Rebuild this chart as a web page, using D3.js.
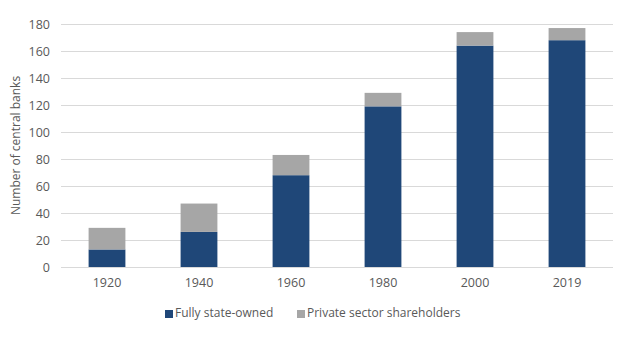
<!DOCTYPE html>
<html>
<head>
<meta charset="utf-8">
<script src="https://cdn.jsdelivr.net/npm/d3@7"></script>
<style>
  body { margin: 0; background: #fff; }
  text { font-family: "Open Sans", "Liberation Sans", sans-serif; fill: #595959; }
</style>
</head>
<body>
<script>
// Chart data
const years = ['1920', '1940', '1960', '1980', '2000', '2019'];
const stateOwned = [13, 26, 68, 119, 164, 168];
const privateShare = [16, 21, 15, 10, 10, 9];
const yTicks = [0, 20, 40, 60, 80, 100, 120, 140, 160, 180];
const seriesNames = ['Fully state-owned', 'Private sector shareholders'];
const colors = ['#1f4778', '#a6a6a6'];

const width = 624, height = 344;
const margin = { top: 24, right: 11, bottom: 77, left: 61 };

const svg = d3.select('body').append('svg')
  .attr('width', width)
  .attr('height', height);

const x = d3.scaleBand()
  .domain(years)
  .range([margin.left, width - margin.right])
  .paddingInner(0.6)
  .paddingOuter(0.3);

const y = d3.scaleLinear()
  .domain([0, 180])
  .range([height - margin.bottom, margin.top]);

// gridlines
svg.append('g')
  .selectAll('line')
  .data(yTicks)
  .enter()
  .append('line')
  .attr('x1', margin.left)
  .attr('x2', width - margin.right)
  .attr('y1', d => Math.round(y(d)) + 0.5)
  .attr('y2', d => Math.round(y(d)) + 0.5)
  .attr('stroke', '#d9d9d9')
  .attr('stroke-width', 1);

// stacked bars
const rows = years.map((yr, i) => ({ year: yr, a: stateOwned[i], b: privateShare[i] }));
const stack = d3.stack().keys(['a', 'b'])(rows);

svg.append('g')
  .selectAll('g')
  .data(stack)
  .enter()
  .append('g')
  .attr('fill', (d, i) => colors[i])
  .selectAll('rect')
  .data(d => d)
  .enter()
  .append('rect')
  .attr('x', d => x(d.data.year))
  .attr('width', x.bandwidth())
  .attr('y', d => y(d[1]))
  .attr('height', d => y(d[0]) - y(d[1]));

// y axis labels
const yAxis = svg.append('g')
  .attr('transform', `translate(${margin.left},0)`)
  .call(d3.axisLeft(y).tickValues(yTicks).tickSize(0).tickPadding(11));
yAxis.select('.domain').remove();
yAxis.selectAll('text')
  .style('font-size', '12.5px')
  .style('font-family', '"Open Sans", "Liberation Sans", sans-serif')
  .attr('fill', '#595959');

// x axis labels
const xAxis = svg.append('g')
  .attr('transform', `translate(0,${height - margin.bottom})`)
  .call(d3.axisBottom(x).tickSize(0).tickPadding(11));
xAxis.select('.domain').remove();
xAxis.selectAll('text')
  .style('font-size', '12.5px')
  .style('font-family', '"Open Sans", "Liberation Sans", sans-serif')
  .attr('fill', '#595959');

// y axis title
svg.append('text')
  .attr('transform', `translate(17,${(margin.top + height - margin.bottom) / 2}) rotate(-90)`)
  .attr('text-anchor', 'middle')
  .attr('dominant-baseline', 'middle')
  .style('font-size', '12px')
  .text('Number of central banks');

// legend
const legendX = [165, 297];
const legend = svg.append('g')
  .selectAll('g')
  .data(seriesNames)
  .enter()
  .append('g')
  .attr('transform', (d, i) => `translate(${legendX[i]},314)`);

legend.append('rect')
  .attr('x', 0)
  .attr('y', -4)
  .attr('width', 8)
  .attr('height', 8)
  .attr('fill', (d, i) => colors[i]);

legend.append('text')
  .attr('x', 10)
  .attr('y', 0)
  .attr('dominant-baseline', 'middle')
  .style('font-size', '12px')
  .text(d => d);
</script>
</body>
</html>
